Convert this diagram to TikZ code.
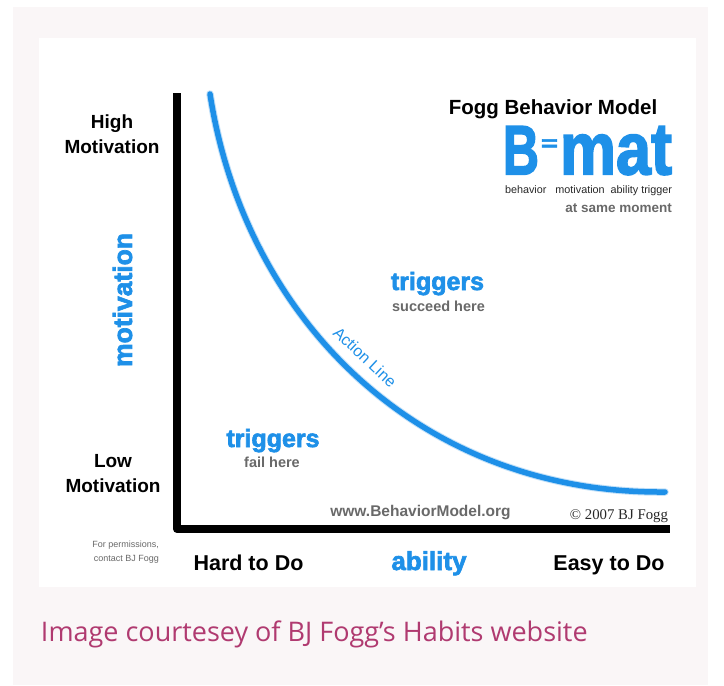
\documentclass[tikz,border=0pt]{standalone}
\usepackage{fontspec}
\usepackage{graphicx}
\setmainfont{Liberation Sans}
\newfontfamily\heavy{Liberation Sans}[FakeBold=2.5]
\newfontfamily\capfont{Open Sans}
\newfontfamily\serifz{Liberation Serif}
\definecolor{fbblue}{RGB}{30,144,232}
\definecolor{fbgrey}{RGB}{105,105,105}
\definecolor{fbdark}{RGB}{40,40,40}
\definecolor{pinkbg}{RGB}{250,246,247}
\definecolor{capcol}{RGB}{176,58,112}
\begin{document}
\begin{tikzpicture}[x=1pt,y=-1pt,
  lbl/.style={inner sep=0pt, outer sep=0pt},
  blacklbl/.style={lbl, text=black, font=\bfseries\fontsize{19}{22}\selectfont},
  axislbl/.style={lbl, text=black, font=\bfseries\fontsize{21.5}{24}\selectfont},
  bluelbl/.style={lbl, text=fbblue, font=\heavy\bfseries\fontsize{25}{28}\selectfont},
  greylbl/.style={lbl, text=fbgrey, font=\bfseries\fontsize{14.5}{17}\selectfont},
  axisline/.style={line width=8pt, line join=round, black},
  actionline/.style={fbblue, line width=5.5pt, line cap=round, line join=round}]
\useasboundingbox (0,0) rectangle (724,686);
\fill[pinkbg] (13,7) rectangle (708,685);
\fill[white] (39,38) rectangle (696,587);

% axes
\coordinate (ytop) at (177,93);
\coordinate (origin) at (177,529);
\coordinate (xend) at (670,529);
\draw[axisline] (ytop) -- (origin) -- (xend);

% action line
\coordinate (cstart) at (210,94);
\coordinate (cend) at (665,492);
\draw[actionline, fbblue!60, opacity=0.45, line width=7.5pt] (cstart) .. controls (245,320) and (420,494) .. (cend);
\draw[actionline] (cstart) .. controls (245,320) and (420,494) .. (cend);

% left labels
\node[blacklbl, anchor=base] (high) at (112,128) {High};
\node[blacklbl, anchor=base] (highm) at (112,153) {Motivation};
\node[blacklbl, anchor=base] (low) at (113,467) {Low};
\node[blacklbl, anchor=base] (lowm) at (113,492) {Motivation};
\node[lbl, text=fbblue, rotate=90, font=\heavy\bfseries\fontsize{26.5}{28}\selectfont] (motiv) at (122.5,300) {motivation};

% bottom labels
\node[lbl, text=fbgrey, font=\fontsize{9}{10}\selectfont, anchor=base east] (perm1) at (159,547) {For permissions,};
\node[lbl, text=fbgrey, font=\fontsize{9}{10}\selectfont, anchor=base east] (perm2) at (159,561) {contact BJ Fogg};
\node[axislbl, anchor=base] (hard) at (248.5,570) {Hard to Do};
\node[lbl, text=fbblue, font=\heavy\bfseries\fontsize{26}{28}\selectfont, anchor=base] (ability) at (429,570) {ability};
\node[axislbl, anchor=base] (easy) at (609,570) {Easy to Do};

% inner labels
\node[lbl, text=fbgrey, font=\bfseries\fontsize{15.5}{17}\selectfont, anchor=base] (www) at (420.5,516) {www.BehaviorModel.org};
\node[lbl, text=fbdark, anchor=base east] (copy) at (668,519) {\resizebox{98pt}{!}{\serifz\fontsize{12}{12}\selectfont \textcopyright\ 2007 BJ Fogg}};

\node[bluelbl, anchor=base] (trigs) at (437.5,290) {triggers};
\node[greylbl, anchor=base] (succ) at (438.5,311) {succeed here};
\node[bluelbl, anchor=base] (trigf) at (273,447) {triggers};
\node[greylbl, anchor=base] (fail) at (272,467) {fail here};
\node[lbl, text=fbblue, font=\fontsize{16}{18}\selectfont, rotate=-43] (action) at (365,357) {Action Line};

% title block
\node[lbl, text=black, font=\bfseries\fontsize{20.5}{23}\selectfont, anchor=base] (title) at (553,114) {Fogg Behavior Model};
\node[lbl, text=fbblue, anchor=south west] (bmat) at (503,175) {\heavy\bfseries\resizebox{36pt}{48pt}{B}\hspace{2pt}\raisebox{24pt}{\resizebox{17pt}{11pt}{=}}\hspace{2pt}\resizebox{112pt}{48pt}{mat}};
\node[lbl, text=fbdark, anchor=base west] (words) at (505,193) {\resizebox{167pt}{!}{\fontsize{9}{10}\selectfont behavior\ \ \ motivation\ \ ability\ trigger}};
\node[lbl, text=fbgrey, font=\bfseries\fontsize{13.5}{15}\selectfont, anchor=base east] (same) at (672,212) {at same moment};

% caption
\node[lbl, text=capcol, font=\capfont\fontsize{27}{29}\selectfont, anchor=base west] (caption) at (41,641) {Image courtesey of BJ Fogg’s Habits website};
\end{tikzpicture}
\end{document}
